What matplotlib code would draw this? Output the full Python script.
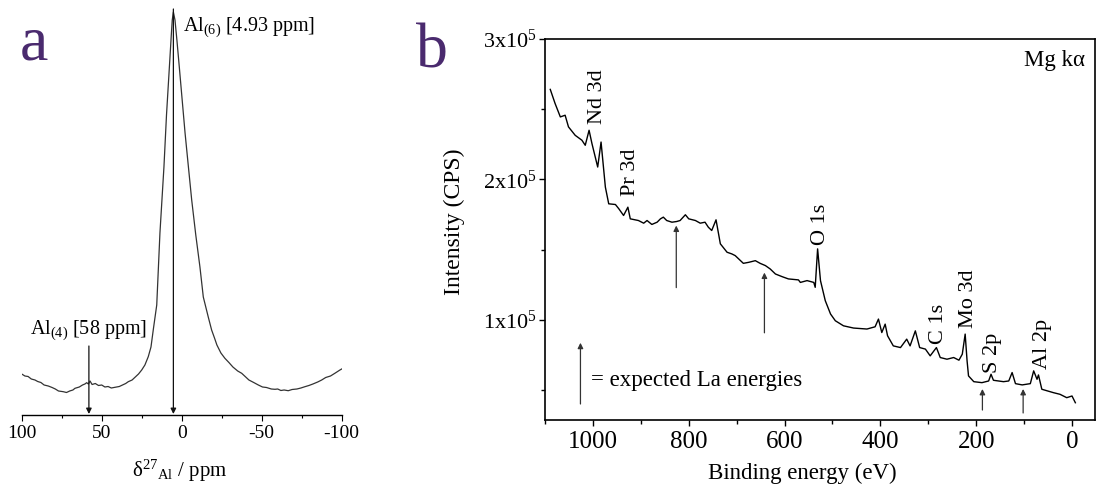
"""27Al NMR (a) and XPS survey (b) side by side."""

import matplotlib

matplotlib.use("Agg")
import matplotlib.pyplot as plt
from matplotlib.ticker import FixedLocator, FixedFormatter, MultipleLocator

plt.rcParams["font.family"] = ["Liberation Serif", "DejaVu Serif"]
plt.rcParams["mathtext.fontset"] = "custom"
plt.rcParams["mathtext.rm"] = "Liberation Serif"
plt.rcParams["mathtext.it"] = "Liberation Serif:italic"
plt.rcParams["axes.unicode_minus"] = False

# ---- panel a: 27Al MAS NMR (relative intensity, arbitrary units)
nmr_ppm = [100, 98, 96, 94, 91.7, 90, 88, 86, 83.4, 81, 79, 77, 74, 72, 70,
           68, 66.7, 64, 62, 60.5, 59.4, 58.3, 57.3, 56, 54, 52, 50, 48, 46,
           44, 41.7, 39, 37, 35, 33.4, 31, 29, 27, 25, 23, 20.9, 19.2, 17.7,
           15.6, 13.6, 11.1, 9.5, 7.7, 6.5, 5.9, 5.2, 4.2, 3.0, 1.5, -0.3,
           -2.1, -4.2, -6.25, -8.8, -11.4, -13.5, -16.6, -18.7, -20.5, -22,
           -24.5, -27, -29.5, -32, -35, -37.5, -40, -42, -45, -47.9, -50.5,
           -53, -56, -58.3, -60, -62, -64, -66.6, -69, -72, -74.5, -77, -79.5,
           -82, -85, -87.5, -90, -93, -96, -98.9, -100]
nmr_int = [41, 39, 38.5, 36, 35, 33.5, 32.5, 30, 29, 27.5, 26, 24, 23.3, 22.5,
           24, 25, 26.7, 28, 30, 31, 32.3, 31, 34, 30.5, 31.5, 29.5, 30, 28,
           28.5, 27, 27.7, 28.5, 30, 31.5, 33.3, 35, 38, 41, 45, 50, 58.3, 68,
           86, 110, 182, 248, 300, 348, 380, 395, 403, 395, 375, 348, 315,
           282, 248, 215, 180, 148, 118, 98, 85, 77, 70, 62, 56.7, 52.5, 48,
           44, 41.7, 38, 35, 32.5, 30, 28, 27.5, 26, 25.7, 26, 24.5, 25, 24.3,
           25.5, 26, 27, 28.3, 29.5, 31, 33, 35, 37.5, 39, 42, 45, 46]

# ---- panel b: XPS survey spectrum
be_ev = [1089, 1079, 1068, 1058, 1051, 1037, 1023, 1016, 1008, 1002, 990, 983,
         980, 974, 967, 953, 946, 936, 927, 922, 905, 894, 887, 877, 866, 859,
         853, 846, 835, 825, 818, 807, 800, 786, 776, 766, 759, 752, 743, 734,
         720, 710, 703, 686, 675, 661, 651, 640, 630, 619, 605, 592, 571, 567,
         553, 539, 536, 531, 525, 515, 504, 494, 477, 456, 428, 411, 404, 397,
         390, 385, 373, 358, 345, 338, 327, 318, 306, 296, 283, 275, 261, 247,
         236, 229, 223, 219, 216, 205, 188, 174, 169, 164, 143, 132, 125, 118,
         104, 87, 80, 73, 70, 63, 39, 25, 11, 0, -7]
cps = [2.641, 2.541, 2.445, 2.457, 2.374, 2.314, 2.279, 2.243, 2.35, 2.255,
       2.088, 2.266, 2.159, 1.945, 1.826, 1.821, 1.791, 1.743, 1.802, 1.719,
       1.707, 1.688, 1.707, 1.679, 1.695, 1.719, 1.731, 1.707, 1.695, 1.700,
       1.707, 1.748, 1.719, 1.707, 1.688, 1.695, 1.659, 1.636, 1.712, 1.541,
       1.481, 1.469, 1.457, 1.402, 1.409, 1.421, 1.402, 1.386, 1.362, 1.326,
       1.307, 1.291, 1.284, 1.266, 1.279, 1.266, 1.231, 1.505, 1.279, 1.136,
       1.041, 0.993, 0.957, 0.941, 0.934, 0.95, 1.005, 0.909, 0.969, 0.886,
       0.814, 0.802, 0.862, 0.814, 0.921, 0.802, 0.791, 0.743, 0.802, 0.731,
       0.719, 0.731, 0.712, 0.755, 0.898, 0.707, 0.60, 0.559, 0.552, 0.564,
       0.612, 0.569, 0.559, 0.564, 0.624, 0.545, 0.536, 0.545, 0.636, 0.576,
       0.607, 0.505, 0.481, 0.469, 0.445, 0.457, 0.409]
cps = [v * 1e5 for v in cps]

peak_labels = ["Nd 3d", "Pr 3d", "O 1s", "C 1s", "Mo 3d", "S 2p", "Al 2p"]
peak_label_ev = [991, 922, 525, 279, 216, 166, 62]
peak_label_cps = [2.586e5, 2.05e5, 1.679e5, 0.971e5, 1.15e5, 0.764e5, 0.829e5]

# expected La energies: (eV, arrow tail, arrow head)
la_ev = [826, 642, 187, 102]
la_tail = [1.229e5, 0.907e5, 0.357e5, 0.336e5]
la_head = [1.671e5, 1.336e5, 0.507e5, 0.507e5]

yticks_b = [1e5, 2e5, 3e5]
yticklabels_b = [r"$\mathregular{1x10^5}$", r"$\mathregular{2x10^5}$",
                 r"$\mathregular{3x10^5}$"]

W, H = 1096, 484
fig = plt.figure(figsize=(W / 100, H / 100), dpi=100)
purple = "#4a2a6e"

# ------------------------------------------------------------- panel a
ax_a = fig.add_axes([21.7 / W, (H - 415) / H, 320 / W, 410 / H])
ax_a.plot(nmr_ppm, nmr_int, color="#333333", lw=0.9)
ax_a.set_xlim(100, -100)
ax_a.set_ylim(0, 410)
for side in ("left", "right", "top"):
    ax_a.spines[side].set_visible(False)
ax_a.spines["bottom"].set_linewidth(1.0)
ax_a.set_yticks([])
ax_a.xaxis.set_major_locator(MultipleLocator(50))
ax_a.xaxis.set_minor_locator(MultipleLocator(25))
ax_a.tick_params(axis="x", which="major", direction="out", length=4,
                 width=0.8, labelsize=14, pad=3)
ax_a.tick_params(axis="x", which="minor", direction="out", length=2.5,
                 width=0.8)
ax_a.set_xlabel(r"δ$^{\mathregular{27}}$$_{\mathregular{Al}}$ / ppm", fontsize=15)
ax_a.xaxis.set_label_coords(0.495, -0.105)

arrow_kw = dict(arrowstyle="-|>", lw=0.9, color="#111111", mutation_scale=8,
                shrinkA=0, shrinkB=0)
ax_a.annotate("", xy=(5.2, 1), xytext=(5.2, 406), arrowprops=arrow_kw)
ax_a.annotate("", xy=(58, 1), xytext=(58, 69), arrowprops=arrow_kw)
ax_a.text(-1.0, 388, r"Al$\mathregular{_{(6)}}$ [4.93 ppm]", fontsize=14.5,
          ha="left", va="center")
ax_a.text(94.8, 85, r"Al$\mathregular{_{(4)}}$ [58 ppm]", fontsize=14.5,
          ha="left", va="center")
fig.text(20 / W, 1 - 59 / H, "a", fontsize=46, color=purple,
         ha="left", va="baseline")

# ------------------------------------------------------------- panel b
ax_b = fig.add_axes([545 / W, (H - 420) / H, 550 / W, 381 / H])
ax_b.plot(be_ev, cps, color="black", lw=1.0)
ax_b.set_xlim(1100, -48)
ax_b.set_ylim(28600, 300000)
for side in ax_b.spines.values():
    side.set_linewidth(1.2)
ax_b.xaxis.set_major_locator(MultipleLocator(200))
ax_b.xaxis.set_minor_locator(MultipleLocator(100))
ax_b.yaxis.set_major_locator(FixedLocator(yticks_b))
ax_b.yaxis.set_major_formatter(FixedFormatter(yticklabels_b))
ax_b.yaxis.set_minor_locator(MultipleLocator(1e5 / 2))
ax_b.tick_params(which="major", direction="out", length=4, width=1.0)
ax_b.tick_params(which="minor", direction="out", length=3, width=1.0)
ax_b.tick_params(axis="x", labelsize=18, pad=4)
ax_b.tick_params(axis="y", labelsize=16, pad=2)
ax_b.set_xlabel("Binding energy (eV)", fontsize=16.5)
ax_b.xaxis.set_label_coords(0.467, -0.112)
ax_b.set_ylabel("Intensity (CPS)", fontsize=17)
ax_b.yaxis.set_label_coords(-0.145, 0.52)

for lab, ev, val in zip(peak_labels, peak_label_ev, peak_label_cps):
    ax_b.text(ev, val, lab, rotation=90, fontsize=16, ha="center",
              va="center")
ax_b.text(-28, 2.85e5, "Mg kα", fontsize=16.5, ha="right", va="center")

la_kw = dict(arrowstyle="-|>", lw=0.9, color="#333333", mutation_scale=8,
             shrinkA=0, shrinkB=0)
for ev, tail, head in zip(la_ev, la_tail, la_head):
    ax_b.annotate("", xy=(ev, head), xytext=(ev, tail), arrowprops=la_kw)
ax_b.annotate("", xy=(1026, 0.836e5), xytext=(1026, 0.40e5), arrowprops=la_kw)
ax_b.text(1005, 0.564e5, "= expected La energies", fontsize=16.5,
          ha="left", va="center")
fig.text(416 / W, 1 - 67 / H, "b", fontsize=46, color=purple,
         ha="left", va="baseline")

fig.savefig("out.png", dpi=100)
